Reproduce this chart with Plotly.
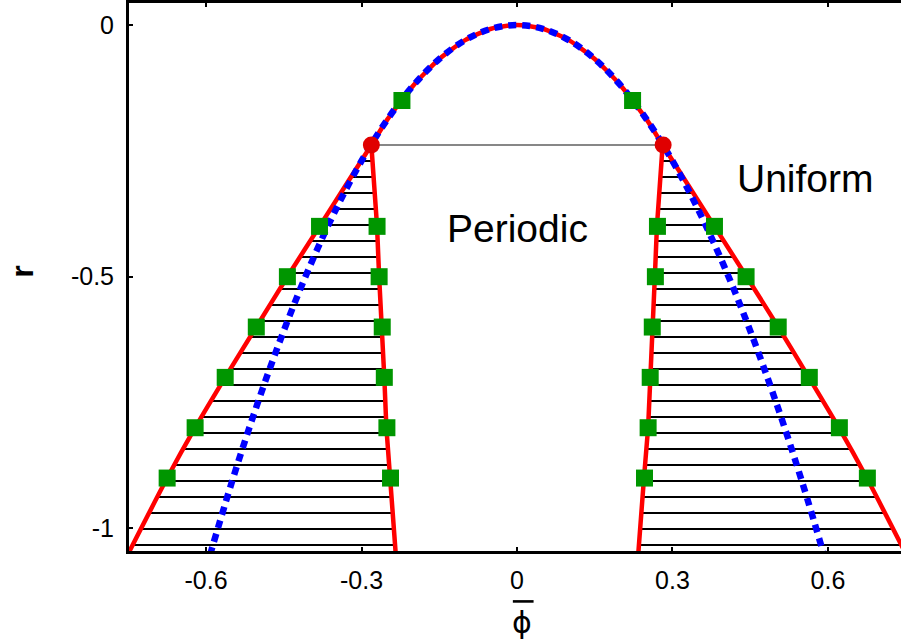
import numpy as np
import plotly.graph_objects as go

# ---------------- data ----------------
# spinodal-like parabola (blue dotted)
phi_par = [-0.60, -0.55, -0.50, -0.45, -0.40, -0.35, -0.30, -0.25, -0.20, -0.15, -0.10, -0.05, 0.0,
           0.05, 0.10, 0.15, 0.20, 0.25, 0.30, 0.35, 0.40, 0.45, 0.50, 0.55, 0.60]
r_par = [-1.08, -0.9075, -0.75, -0.6075, -0.48, -0.3675, -0.27, -0.1875, -0.12, -0.0675, -0.03, -0.0075, 0.0,
         -0.0075, -0.03, -0.0675, -0.12, -0.1875, -0.27, -0.3675, -0.48, -0.6075, -0.75, -0.9075, -1.08]

# red upper arc between the two tricritical points
phi_arc = [-0.281, -0.25, -0.20, -0.15, -0.10, -0.05, 0.0, 0.05, 0.10, 0.15, 0.20, 0.25, 0.281]
r_arc = [-0.2384, -0.1875, -0.12, -0.0675, -0.03, -0.0075, 0.0, -0.0075, -0.03, -0.0675, -0.12, -0.1875, -0.2384]

# coexistence boundaries (r levels, right-side phi; left side values)
r_bnd = [-0.2384, -0.40, -0.50, -0.60, -0.70, -0.80, -0.90, -1.05]
phi_out_right = [0.281, 0.381, 0.443, 0.504, 0.563, 0.621, 0.675, 0.750]
phi_out_left = [-0.281, -0.381, -0.443, -0.503, -0.563, -0.621, -0.675, -0.750]
phi_in_right = [0.281, 0.270, 0.266, 0.261, 0.257, 0.253, 0.245, 0.234]
phi_in_left = [-0.281, -0.270, -0.266, -0.260, -0.256, -0.252, -0.244, -0.234]

# tie-line levels
r_tie = [-0.2702, -0.3020, -0.3337, -0.3655, -0.3973, -0.4291, -0.4609, -0.4927, -0.5244,
         -0.5562, -0.5880, -0.6198, -0.6516, -0.6834, -0.7151, -0.7469, -0.7787, -0.8105,
         -0.8423, -0.8740, -0.9058, -0.9376, -0.9694, -1.0012, -1.0330]
r_tie_top = -0.2384

# green squares (simulation points)
sq_r = [-0.15, -0.40, -0.50, -0.60, -0.70, -0.80, -0.90,
        -0.15, -0.40, -0.50, -0.60, -0.70, -0.80, -0.90,
        -0.40, -0.50, -0.60, -0.70, -0.80, -0.90,
        -0.40, -0.50, -0.60, -0.70, -0.80, -0.90]
sq_phi = [-0.222, -0.381, -0.443, -0.503, -0.563, -0.621, -0.675,
          0.223, 0.381, 0.442, 0.504, 0.564, 0.622, 0.676,
          -0.270, -0.266, -0.260, -0.256, -0.251, -0.244,
          0.271, 0.267, 0.261, 0.257, 0.253, 0.246]

# tricritical points
dot_phi = [-0.281, 0.282]
dot_r = [-0.2384, -0.2384]

x_ticks = [-0.6, -0.3, 0, 0.3, 0.6]
x_tick_text = ["-0.6", "-0.3", "0", "0.3", "0.6"]
y_ticks = [0, -0.5, -1]
y_tick_text = ["0", "-0.5", "-1"]

# ---------------- figure ----------------
fig = go.Figure()

# tie lines
rb = np.array(r_bnd)[::-1]
tx, ty = [], []
for r in r_tie:
    for a, b in ((phi_out_left, phi_in_left), (phi_in_right, phi_out_right)):
        x0 = float(np.interp(r, rb, np.array(a)[::-1]))
        x1 = float(np.interp(r, rb, np.array(b)[::-1]))
        tx += [x0, x1, None]
        ty += [r, r, None]
fig.add_trace(go.Scatter(x=tx, y=ty, mode="lines", line=dict(color="black", width=2),
                         hoverinfo="skip", showlegend=False))
fig.add_trace(go.Scatter(x=[dot_phi[0], dot_phi[1]], y=[r_tie_top, r_tie_top], mode="lines",
                         line=dict(color="#111111", width=1.2), showlegend=False))

# red boundaries
outer_x = phi_out_left[::-1] + phi_arc[1:-1] + phi_out_right
outer_y = r_bnd[::-1] + r_arc[1:-1] + r_bnd
fig.add_trace(go.Scatter(x=outer_x, y=outer_y, mode="lines",
                         line=dict(color="#ff0000", width=4.5, shape="spline", smoothing=0.6),
                         showlegend=False))
fig.add_trace(go.Scatter(x=phi_in_left, y=r_bnd, mode="lines",
                         line=dict(color="#ff0000", width=4.5), showlegend=False))
fig.add_trace(go.Scatter(x=phi_in_right, y=r_bnd, mode="lines",
                         line=dict(color="#ff0000", width=4.5), showlegend=False))

# blue dotted parabola
fig.add_trace(go.Scatter(x=phi_par, y=r_par, mode="lines",
                         line=dict(color="#0000ff", width=6.5, dash="8px,6px", shape="spline"),
                         showlegend=False))

# green squares
fig.add_trace(go.Scatter(x=sq_phi, y=sq_r, mode="markers",
                         marker=dict(symbol="square", size=17, color="#009600", line=dict(width=0)),
                         showlegend=False))
# red dots
fig.add_trace(go.Scatter(x=dot_phi, y=dot_r, mode="markers",
                         marker=dict(symbol="circle", size=17, color="#e00000", line=dict(width=0)),
                         showlegend=False))

font_main = "Liberation Sans, Arial, Helvetica, sans-serif"

fig.add_annotation(x=0.0, y=-0.405, xref="x", yref="y", text="Periodic", showarrow=False,
                   xanchor="center", yanchor="middle",
                   font=dict(family=font_main, size=39, color="black"))
fig.add_annotation(x=0.556, y=-0.305, xref="x", yref="y", text="Uniform", showarrow=False,
                   xanchor="center", yanchor="middle",
                   font=dict(family=font_main, size=39, color="black"))

# axis titles
fig.add_annotation(x=0.010, y=-0.130, xref="x", yref="paper", text="ϕ", showarrow=False,
                   xanchor="center", yanchor="middle",
                   font=dict(family="DejaVu Sans, sans-serif", size=30, color="black"))
fig.add_shape(type="line", xref="x", yref="paper", x0=-0.008, x1=0.032, y0=-0.092, y1=-0.092,
              line=dict(color="black", width=2.6))
fig.add_annotation(x=-0.1386, y=-0.49, xref="paper", yref="y", text="<b>r</b>", showarrow=False,
                   xanchor="center", yanchor="middle",
                   textangle=-90, font=dict(family=font_main, size=32, color="black"))

fig.update_layout(
    width=901, height=642,
    margin=dict(l=129, r=0, t=3, b=91),
    plot_bgcolor="white", paper_bgcolor="white",
    showlegend=False,
    font=dict(family=font_main, color="black"),
)
fig.update_xaxes(range=[-0.7486, 0.7409], tickmode="array", tickvals=x_ticks, ticktext=x_tick_text,
                 ticks="inside", ticklen=4, tickwidth=2, tickcolor="black",
                 showline=True, linewidth=3, linecolor="black", mirror="ticks",
                 showgrid=False, zeroline=False, tickfont=dict(size=25, family=font_main),
                 ticklabelstandoff=5)
fig.update_yaxes(range=[-1.0449, 0.0437], tickmode="array", tickvals=y_ticks, ticktext=y_tick_text,
                 ticks="inside", ticklen=4, tickwidth=2, tickcolor="black",
                 showline=True, linewidth=3, linecolor="black", mirror=False,
                 showgrid=False, zeroline=False, tickfont=dict(size=25, family=font_main),
                 ticklabelstandoff=7)

fig.write_html("out.html")
